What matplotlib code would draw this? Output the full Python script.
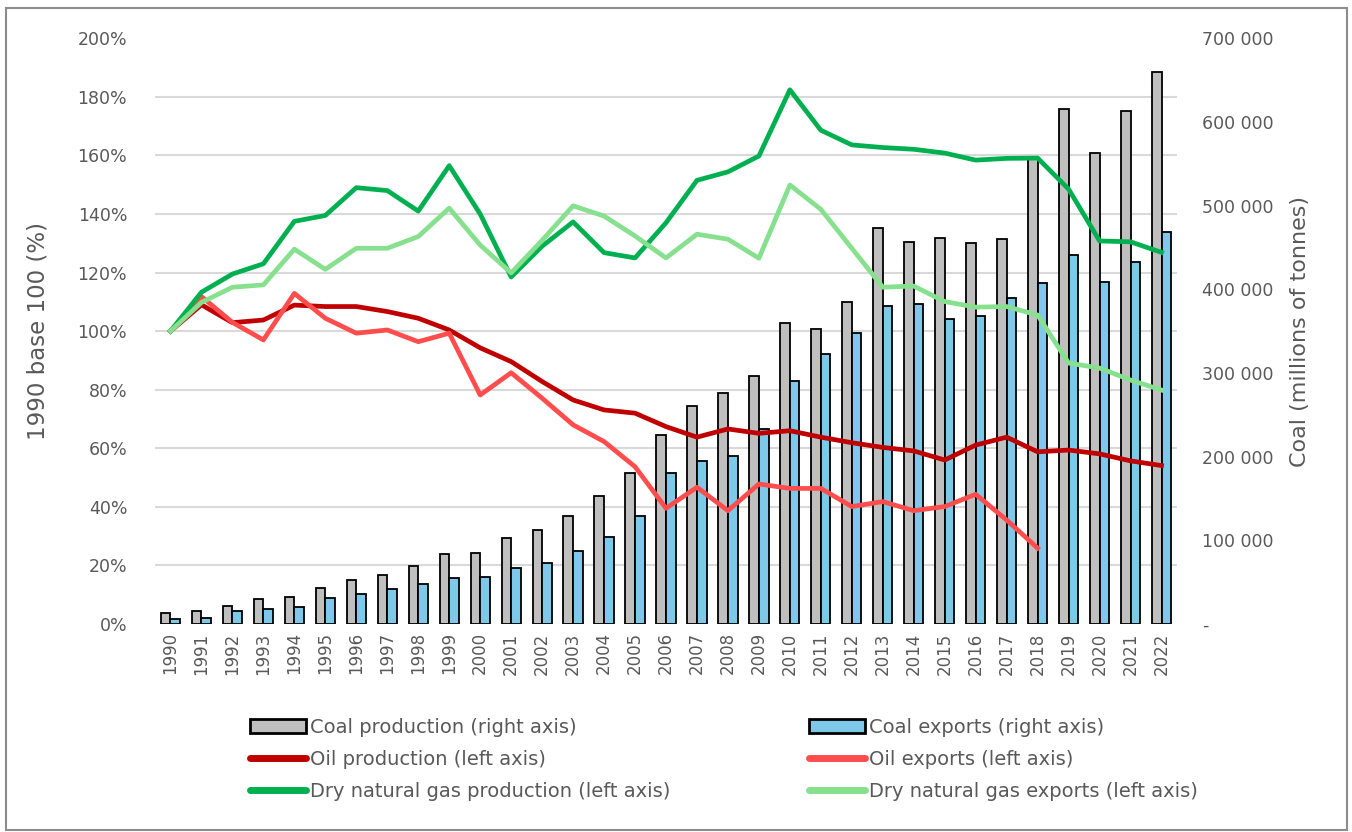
import matplotlib
matplotlib.use("Agg")
import matplotlib.pyplot as plt
from matplotlib.patches import Rectangle
from matplotlib.ticker import FuncFormatter
from matplotlib.lines import Line2D
import numpy as np

# data
years = [str(y) for y in range(1990, 2023)]

coal_prod = [12800, 15900, 21900, 29500, 32600, 43400, 52600, 58600, 69300, 83300,
             84500, 102400, 112300, 129400, 153300, 180100, 225900, 260900, 276400, 296800,
             360100, 352600, 385200, 473700, 456900, 461700, 455400, 460100, 557000, 615500,
             563300, 613500, 660100]
coal_exp = [5600, 6800, 15900, 17600, 20700, 30700, 35500, 41500, 47800, 55400,
            56500, 66600, 72500, 87600, 104300, 129400, 180800, 194800, 200800, 233100,
            290000, 322700, 347400, 380400, 382100, 364500, 368500, 390000, 407900, 441000,
            409100, 432300, 468100]

oil_prod = [100, 109, 102.9, 103.8, 108.9, 108.4, 108.4, 106.7, 104.4, 100.4,
            94.3, 89.6, 82.8, 76.5, 73.1, 72.0, 67.4, 63.8, 66.6, 65.1,
            66.0, 63.8, 61.9, 60.3, 59.1, 56.0, 61.1, 63.8, 58.8, 59.4,
            58.1, 55.7, 54.1]
oil_exp = [100, 111.8, 103, 97, 112.9, 104.4, 99.3, 100.4, 96.4, 99.3,
           78.2, 85.8, 77.1, 68.0, 62.3, 53.7, 39.5, 46.7, 38.7, 47.8,
           46.3, 46.3, 40.1, 41.8, 38.7, 40.1, 44.3, 35.5, 25.9]
gas_prod = [100, 113.3, 119.5, 123, 137.5, 139.5, 149, 148, 141, 156.5,
            140, 118.5, 129, 137.3, 126.8, 125, 137, 151.5, 154.4, 159.8,
            182.4, 168.6, 163.6, 162.7, 162.1, 160.8, 158.4, 159.0, 159.1, 148.5,
            130.8, 130.5, 126.9]
gas_exp = [100, 109.8, 115, 115.8, 128, 121.1, 128.3, 128.3, 132.3, 142,
           129.4, 119.9, 131, 142.8, 139.3, 132.5, 125, 133.1, 131.4, 124.9,
           149.9, 141.6, 128.3, 115, 115.4, 110.1, 108.2, 108.4, 105.5, 89.1,
           87.4, 83.3, 79.9]

GREY = "#595959"
x = np.arange(len(years))

fig = plt.figure(figsize=(13.52, 8.32), dpi=100)
ax = fig.add_axes([155 / 1352, 1 - 624 / 832, 1022 / 1352, (624 - 38.3) / 832])
ax2 = ax.twinx()

# bars on the right axis (drawn underneath)
w = 0.31
ax2.bar(x - w / 2, coal_prod, w, color="#BFBFBF", edgecolor="black", linewidth=1.3,
        label="Coal production (right axis)", zorder=3)
ax2.bar(x + w / 2, coal_exp, w, color="#7EC8EA", edgecolor="black", linewidth=1.3,
        label="Coal exports (right axis)", zorder=3)
ax2.set_ylim(0, 700000)
ax2.set_yticks(np.arange(0, 700001, 100000))
ax2.set_yticks(np.arange(0, 700001, 70000), minor=True)
ax2.grid(which="minor", axis="y", color="#D9D9D9", linewidth=1.5, zorder=0)
ax2.tick_params(which="both", length=0)
ax2.tick_params(axis="y", labelsize=12.5, labelcolor=GREY, pad=18)
ax2.yaxis.set_major_formatter(FuncFormatter(
    lambda v, p: "-" if v == 0 else "{:,.0f}".format(v).replace(",", " ")))
ax2.set_ylabel("Coal (millions of tonnes)", fontsize=16, color=GREY, labelpad=12)

# lines on the left axis (drawn on top)
ax.set_zorder(ax2.get_zorder() + 1)
ax.patch.set_visible(False)
lw = 3.4
ax.plot(x, oil_prod, color="#C00000", lw=lw, solid_joinstyle="round", label="Oil production (left axis)")
ax.plot(x[:len(oil_exp)], oil_exp, color="#FF4D4D", lw=lw, solid_joinstyle="round", label="Oil exports (left axis)")
ax.plot(x, gas_prod, color="#00B050", lw=lw, solid_joinstyle="round", label="Dry natural gas production (left axis)")
ax.plot(x, gas_exp, color="#86E08E", lw=lw, solid_joinstyle="round", label="Dry natural gas exports (left axis)")
ax.set_ylim(0, 200)
ax.set_yticks(np.arange(0, 201, 20))
ax.yaxis.set_major_formatter(FuncFormatter(lambda v, p: "{:.0f}%".format(v)))
ax.set_xlim(-0.5, len(years) - 0.5)
ax.set_xticks(x)
ax.set_xticklabels(years, rotation=90)
ax.tick_params(length=0)
ax.tick_params(axis="y", labelsize=12.5, labelcolor=GREY, pad=20)
ax.tick_params(axis="x", labelsize=12, labelcolor=GREY, pad=6)
ax.set_ylabel("1990 base 100 (%)", fontsize=16.5, color=GREY, labelpad=20)

for a in (ax, ax2):
    for s in a.spines.values():
        s.set_visible(False)

# legend, two separate columns
h_cp = Rectangle((0, 0), 1, 1, facecolor="#BFBFBF", edgecolor="black", linewidth=2)
h_ce = Rectangle((0, 0), 1, 1, facecolor="#7EC8EA", edgecolor="black", linewidth=2)
h_op = Line2D([], [], color="#C00000", lw=5, solid_capstyle="round")
h_oe = Line2D([], [], color="#FF4D4D", lw=5, solid_capstyle="round")
h_gp = Line2D([], [], color="#00B050", lw=5, solid_capstyle="round")
h_ge = Line2D([], [], color="#86E08E", lw=5, solid_capstyle="round")

leg_kw = dict(loc="upper left", frameon=False, fontsize=14, borderpad=0,
              handlelength=2.9, handletextpad=0.2, labelspacing=0.68, labelcolor=GREY)
fig.legend([h_cp, h_op, h_gp],
           ["Coal production (right axis)", "Oil production (left axis)",
            "Dry natural gas production (left axis)"],
           bbox_to_anchor=(240 / 1352, 1 - 708 / 832), **leg_kw)
fig.legend([h_ce, h_oe, h_ge],
           ["Coal exports (right axis)", "Oil exports (left axis)",
            "Dry natural gas exports (left axis)"],
           bbox_to_anchor=(799 / 1352, 1 - 708 / 832), **leg_kw)

# outer frame
fig.patches.append(Rectangle((6 / 1352, 2 / 832), 1341 / 1352, 822 / 832, transform=fig.transFigure,
                             fill=False, edgecolor="#8C8C8C", linewidth=1.5))

fig.savefig("out.png", dpi=100)
